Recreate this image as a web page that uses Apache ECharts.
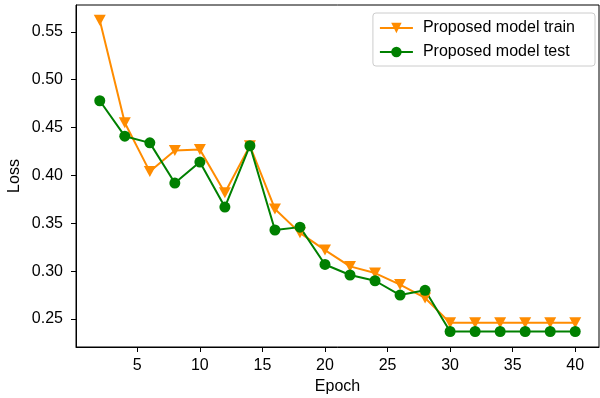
<!DOCTYPE html>
<html>
<head>
<meta charset="utf-8">
<script src="https://cdn.jsdelivr.net/npm/echarts@6/dist/echarts.min.js"></script>
<style>
  html, body { margin: 0; padding: 0; background: #fff; }
  #chart { width: 600px; height: 398px; }
</style>
</head>
<body>
<div id="chart"></div>
<script>
// data
var epochs = [2, 4, 6, 8, 10, 12, 14, 16, 18, 20, 22, 24, 26, 28, 30, 32, 34, 36, 38, 40];
var trainLoss = [0.562, 0.455, 0.404, 0.426, 0.427, 0.382, 0.431, 0.365, 0.340, 0.322,
                 0.305, 0.298, 0.286, 0.272, 0.246, 0.246, 0.246, 0.246, 0.246, 0.246];
var testLoss = [0.478, 0.441, 0.434, 0.392, 0.414, 0.367, 0.431, 0.343, 0.346, 0.307,
                0.296, 0.290, 0.275, 0.280, 0.237, 0.237, 0.237, 0.237, 0.237, 0.237];
var xTicks = [5, 10, 15, 20, 25, 30, 35, 40];
var yTicks = [0.25, 0.30, 0.35, 0.40, 0.45, 0.50, 0.55];

var font = "'Liberation Sans', Arial, sans-serif";

function pairs(ys) {
    return epochs.map(function (x, i) { return [x, ys[i]]; });
}

var chart = echarts.init(document.getElementById('chart'), null, {renderer: 'canvas'});

chart.setOption({
    animation: false,
    backgroundColor: '#fff',
    textStyle: {fontFamily: font},
    grid: {
        left: 76, right: 1, top: 5, bottom: 51,
        outerBoundsMode: 'none',
        show: true, borderColor: '#000', borderWidth: 1
    },
    legend: {
        orient: 'vertical',
        right: 5, top: 13,
        padding: [7, 20, 6, 6],
        itemGap: 8,
        itemWidth: 33, itemHeight: 13,
        borderColor: '#cccccc', borderWidth: 1, borderRadius: 3,
        backgroundColor: 'rgba(255,255,255,0.8)',
        textStyle: {fontSize: 16, color: '#000', fontFamily: font, padding: [0, 0, 0, 5]},
        data: ['Proposed model train', 'Proposed model test']
    },
    xAxis: {
        type: 'value',
        min: 0.1, max: 41.9,
        name: 'Epoch', nameLocation: 'middle', nameGap: 32,
        nameMoveOverlap: false,
        nameTextStyle: {fontSize: 16, color: '#000'},
        axisLine: {show: true, lineStyle: {color: '#000', width: 1}},
        axisTick: {show: true, length: 5, lineStyle: {color: '#000'}, customValues: xTicks},
        axisLabel: {fontSize: 16, color: '#000', margin: 11, customValues: xTicks},
        splitLine: {show: false}
    },
    yAxis: {
        type: 'value',
        min: 0.2208, max: 0.578,
        name: 'Loss', nameLocation: 'middle', nameGap: 53,
        nameMoveOverlap: false,
        nameTextStyle: {fontSize: 16, color: '#000'},
        axisLine: {show: true, lineStyle: {color: '#000', width: 1}},
        axisTick: {show: true, length: 5, lineStyle: {color: '#000'}, customValues: yTicks},
        axisLabel: {
            fontSize: 16, color: '#000', margin: 13, customValues: yTicks,
            formatter: function (v) { return v.toFixed(2); }
        },
        splitLine: {show: false}
    },
    series: [
        {
            name: 'Proposed model train',
            type: 'line',
            data: pairs(trainLoss),
            symbol: 'triangle', symbolRotate: 180, symbolSize: [12, 11],
            showAllSymbol: true,
            lineStyle: {color: '#ff8c00', width: 2},
            itemStyle: {color: '#ff8c00'}
        },
        {
            name: 'Proposed model test',
            type: 'line',
            data: pairs(testLoss),
            symbol: 'circle', symbolSize: 11,
            showAllSymbol: true,
            lineStyle: {color: '#008000', width: 2},
            itemStyle: {color: '#008000'}
        }
    ]
});
</script>
</body>
</html>
